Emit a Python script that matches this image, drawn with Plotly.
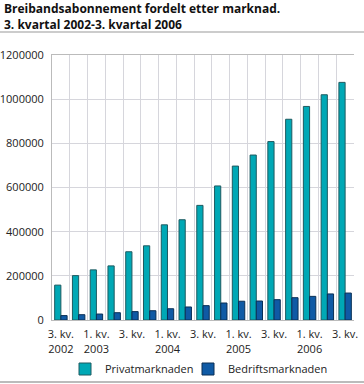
import plotly.graph_objects as go

quarters = ["3. kv. 2002", "4. kv. 2002", "1. kv. 2003", "2. kv. 2003", "3. kv. 2003",
            "4. kv. 2003", "1. kv. 2004", "2. kv. 2004", "3. kv. 2004", "4. kv. 2004",
            "1. kv. 2005", "2. kv. 2005", "3. kv. 2005", "4. kv. 2005", "1. kv. 2006",
            "2. kv. 2006", "3. kv. 2006"]
privat = [158000, 201000, 227000, 245000, 309000, 336000, 431000, 454000, 519000,
          607000, 697000, 747000, 808000, 909000, 967000, 1020000, 1076000]
bedrift = [20000, 24000, 27000, 33000, 38000, 42000, 51000, 59000, 65000,
           77000, 85000, 86000, 92000, 101000, 107000, 118000, 122000]
tick_labels = ["3. kv.<br>2002", "1. kv.<br>2003", "3. kv.", "1. kv.<br>2004", "3. kv.",
               "1. kv.<br>2005", "3. kv.", "1. kv.<br>2006", "3. kv."]
y_ticks = [0, 200000, 400000, 600000, 800000, 1000000, 1200000]
title_lines = ["Breibandsabonnement fordelt etter marknad.", "3. kvartal 2002-3. kvartal 2006"]

x = list(range(len(quarters)))
font = "Open Sans, Noto Sans, sans-serif"
PH = 265  # plot height in px
PW = 302  # plot width in px
ML, MT = 52, 55

fig = go.Figure()
fig.add_trace(go.Bar(x=x, y=privat, name="Privatmarknaden", marker_color="#00A8B5",
                     marker_line=dict(color="#1E5A60", width=1), hovertext=quarters,
                     legend="legend"))
fig.add_trace(go.Bar(x=x, y=bedrift, name="Bedriftsmarknaden", marker_color="#0F5AA5",
                     marker_line=dict(color="#0A2F55", width=1), hovertext=quarters,
                     legend="legend2"))

leg_common = dict(orientation="h", xanchor="left", yanchor="middle", y=-(369 - MT - PH) / PH,
                  font=dict(size=11), itemwidth=30, bgcolor="rgba(0,0,0,0)")

fig.update_layout(
    width=364, height=384,
    margin=dict(l=ML, r=10, t=MT, b=64, autoexpand=False),
    paper_bgcolor="white", plot_bgcolor="white",
    font=dict(family=font, size=11, color="#222"),
    barmode="group", bargap=0.3, bargroupgap=0,
    showlegend=True,
    legend=dict(x=(65 - ML) / PW, **leg_common),
    legend2=dict(x=(188 - ML) / PW, **leg_common),
    xaxis=dict(range=[-0.5, 16.5], tickvals=x[::2], ticktext=tick_labels,
               showgrid=False, zeroline=False, showline=True, linecolor="#BBBBBB",
               mirror=True, ticks="", tickfont=dict(size=11), ticklabelstandoff=4,
               minor=dict(tick0=-0.5, dtick=1, showgrid=True, gridcolor="#D6D6DC", gridwidth=1)),
    yaxis=dict(range=[0, 1200000], tickvals=y_ticks, tickformat="d",
               showgrid=True, gridcolor="#D6D6DC", zeroline=False,
               showline=True, linecolor="#BBBBBB", ticks="", tickfont=dict(size=11),
               ticklabelstandoff=5),
    annotations=[
        dict(text="<b>" + title_lines[0] + "</b>", xref="paper", yref="paper",
             x=-(ML - 2) / PW, y=1 + (MT - 8.5) / PH, xanchor="left", yanchor="middle",
             showarrow=False, font=dict(family=font, size=12, color="#111")),
        dict(text="<b>" + title_lines[1] + "</b>", xref="paper", yref="paper",
             x=-(ML - 2) / PW, y=1 + (MT - 24.5) / PH, xanchor="left", yanchor="middle",
             showarrow=False, font=dict(family=font, size=12, color="#111")),
    ],
    shapes=[
        dict(type="line", xref="paper", yref="paper", x0=-ML / PW, x1=1 + 10 / PW,
             y0=1 + 23 / PH, y1=1 + 23 / PH, line=dict(color="#999999", width=1)),
        dict(type="line", xref="paper", yref="paper", x0=-ML / PW, x1=1 + 10 / PW,
             y0=-62 / PH, y1=-62 / PH, line=dict(color="#BBBBBB", width=2)),
    ],
)

fig.write_html("out.html", config={"displayModeBar": False},
               post_script="document.body.style.margin='0px';")
